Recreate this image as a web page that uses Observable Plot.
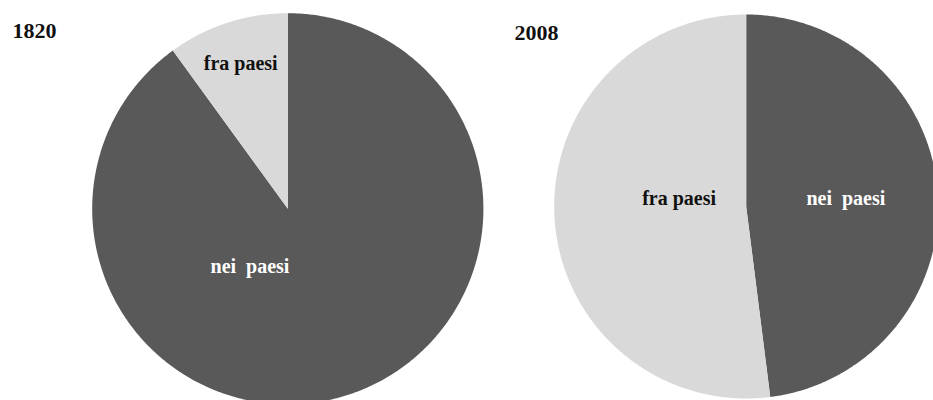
<!DOCTYPE html>
<html>
<head>
<meta charset="utf-8">
<script src="https://cdn.jsdelivr.net/npm/d3@7"></script>
<script src="https://cdn.jsdelivr.net/npm/@observablehq/plot@0.6"></script>
<style>
  html, body { margin: 0; padding: 0; background: #ffffff; }
  #chart { width: 933px; height: 400px; }
</style>
</head>
<body>
<div id="chart"></div>
<script>
// ---- data ----
const years = ["1820", "2008"];
const slices = ["nei paesi", "fra paesi"];
const labelTexts = ["nei  paesi", "fra paesi"];
const share1820 = [90, 10];
const share2008 = [48, 52];

// ---- layout (pixels) ----
const W = 933, H = 400;
const pieLayout = [
  {cx: 287.3, cy: 208.3, r: 195.6, titleX: 12, titleY: 30},
  {cx: 745.7, cy: 206, r: 192, titleX: 514, titleY: 32}
];
const labelFrac = [[0.35, 0.78], [0.52, 0.35]];
const labelNudge = [[[-59, -7], [0, 0]], [[0, -2], [0, -12]]];
const colors = ["#595959", "#d9d9d9"];
const textColors = ["#ffffff", "#111111"];

const shares = [share1820, share2008];
const polys = [];
const labels = [];
years.forEach((yr, i) => {
  const L = pieLayout[i];
  const vals = shares[i];
  const total = d3.sum(vals);
  let acc = 0;
  vals.forEach((v, j) => {
    const a0 = acc / total * 2 * Math.PI;
    acc += v;
    const a1 = acc / total * 2 * Math.PI;
    const key = yr + "-" + j;
    polys.push({key, slice: slices[j], x: L.cx, y: L.cy});
    const n = Math.max(2, Math.ceil((a1 - a0) / (Math.PI / 360)));
    for (let k = 0; k <= n; k++) {
      const a = a0 + (a1 - a0) * k / n;
      polys.push({key, slice: slices[j], x: L.cx + L.r * Math.sin(a), y: L.cy - L.r * Math.cos(a)});
    }
    polys.push({key, slice: slices[j], x: L.cx, y: L.cy});
    const am = (a0 + a1) / 2;
    const rr = L.r * labelFrac[i][j];
    labels.push({
      text: labelTexts[j],
      x: L.cx + rr * Math.sin(am) + labelNudge[i][j][0],
      y: L.cy - rr * Math.cos(am) + labelNudge[i][j][1],
      color: textColors[j]
    });
  });
});
const titles = years.map((yr, i) => ({text: yr, x: pieLayout[i].titleX, y: pieLayout[i].titleY}));

const chart = Plot.plot({
  width: W,
  height: H,
  margin: 0,
  x: {domain: [0, W], range: [0, W], axis: null},
  y: {domain: [0, H], range: [0, H], axis: null},
  color: {domain: slices, range: colors},
  style: {background: "#ffffff", fontFamily: "'Liberation Serif', 'Times New Roman', serif"},
  marks: [
    Plot.line(polys, {x: "x", y: "y", z: "key", fill: "slice", stroke: "none", curve: "linear"}),
    Plot.text(labels, {x: "x", y: "y", text: "text", fill: "color", fontSize: 20, fontWeight: "bold", textAnchor: "middle", fontFamily: "'Liberation Serif', serif"}),
    Plot.text(titles, {x: "x", y: "y", text: "text", fill: "#111111", fontSize: 22, fontWeight: "bold", textAnchor: "start", fontFamily: "'Liberation Serif', serif"})
  ]
});
document.getElementById("chart").appendChild(chart);
</script>
</body>
</html>
